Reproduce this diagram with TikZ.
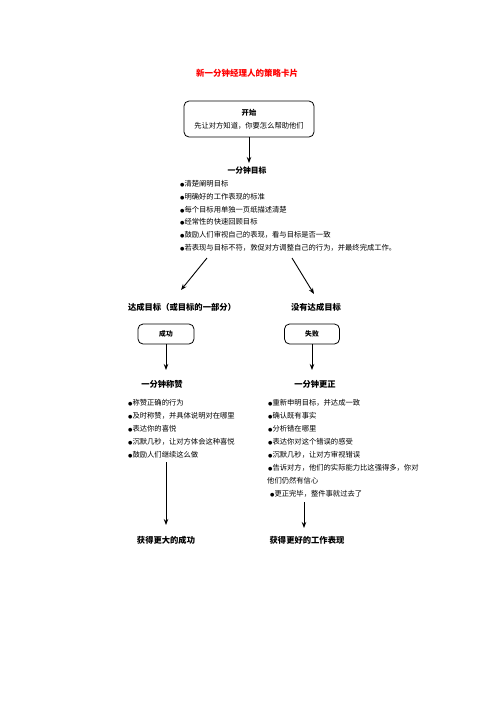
\documentclass[tikz,border=0pt]{standalone}
\usepackage{fontspec}
\setmainfont{Noto Sans CJK SC}
\newfontfamily\djv{DejaVu Sans}
\usetikzlibrary{arrows.meta}
\newcommand{\bul}{{\djv\fontsize{5pt}{5pt}\selectfont ●}}
\begin{document}
\begin{tikzpicture}[x=1pt,y=-1pt,
  body/.style={anchor=west,inner sep=0pt,font=\fontsize{7.3pt}{9pt}\selectfont},
  head/.style={inner sep=0pt,font=\fontsize{8.3pt}{10pt}\selectfont\bfseries},
  rbox/.style={draw,rounded corners=5pt,line width=0.8pt},
  arr/.style={-{Stealth[length=6pt,width=4.5pt]},line width=0.9pt}]
\useasboundingbox (0,0) rectangle (496,702);
\node[inner sep=0pt,text=red,font=\fontsize{8.5pt}{10pt}\selectfont\bfseries] (title) at (247,73) {新一分钟经理人的策略卡片};
\node[rbox,minimum width=130pt,minimum height=36pt,inner sep=0pt,align=center,font=\fontsize{7.3pt}{9pt}\selectfont] (start) at (249,119) {{\bfseries 开始}\\[4pt]先让对方知道，你要怎么帮助他们};
\node[head,font=\fontsize{7.8pt}{10pt}\selectfont\bfseries] (goal) at (247,171) {一分钟目标};
\coordinate (goalin) at (249,163);
\draw[arr] (start.south) -- (goalin);
\node[body] (g1) at (180,184) {\bul 清楚阐明目标};
\node[body] (g2) at (180,197) {\bul 明确好的工作表现的标准};
\node[body] (g3) at (180,210) {\bul 每个目标用单独一页纸描述清楚};
\node[body] (g4) at (180,222) {\bul 经常性的快速回顾目标};
\node[body] (g5) at (180,235) {\bul 鼓励人们审视自己的表现，看与目标是否一致};
\node[body] (g6) at (180,248) {\bul 若表现与目标不符，敦促对方调整自己的行为，并最终完成工作。};
\coordinate (la) at (207,258);
\coordinate (lb) at (181,290);
\coordinate (ra) at (292,258);
\coordinate (rb) at (314,294);
\draw[arr] (la) -- (lb);
\draw[arr] (ra) -- (rb);
\node[head] (reach) at (182,307) {达成目标（或目标的一部分）};
\node[head] (notreach) at (316,307) {没有达成目标};
\node[rbox,minimum width=56pt,minimum height=20pt,inner sep=0pt,font=\fontsize{6.8pt}{8pt}\selectfont\bfseries] (succ) at (166,334) {成功};
\node[rbox,minimum width=55pt,minimum height=20pt,inner sep=0pt,font=\fontsize{6.8pt}{8pt}\selectfont\bfseries] (fail) at (312,334) {失败};
\node[head] (praise) at (162,384) {一分钟称赞};
\node[head] (correct) at (315,384) {一分钟更正};
\coordinate (praisein) at (166,370);
\coordinate (correctin) at (312,370);
\draw[arr] (succ.south) -- (praisein);
\draw[arr] (fail.south) -- (correctin);
\node[body] (p1) at (128,403) {\bul 称赞正确的行为};
\node[body] (p2) at (128,416) {\bul 及时称赞，并具体说明对在哪里};
\node[body] (p3) at (128,429) {\bul 表达你的喜悦};
\node[body] (p4) at (128,442) {\bul 沉默几秒，让对方体会这种喜悦};
\node[body] (p5) at (128,455) {\bul 鼓励人们继续这么做};
\node[body] (c1) at (268,403) {\bul 重新申明目标，并达成一致};
\node[body] (c2) at (268,416) {\bul 确认既有事实};
\node[body] (c3) at (268,429) {\bul 分析错在哪里};
\node[body] (c4) at (268,442) {\bul 表达你对这个错误的感受};
\node[body] (c5) at (268,455) {\bul 沉默几秒，让对方审视错误};
\node[body] (c6) at (268,468) {\bul 告诉对方，他们的实际能力比这强得多，你对};
\node[body] (c7) at (267,481) {他们仍然有信心};
\node[body] (c8) at (270,494) {\bul 更正完毕，整件事就过去了};
\node[head] (big) at (166,540) {获得更大的成功};
\node[head] (better) at (307,540) {获得更好的工作表现};
\coordinate (pa) at (166,462);
\coordinate (pb) at (166,525);
\coordinate (ca) at (304,502);
\coordinate (cb) at (304,528);
\draw[arr] (pa) -- (pb);
\draw[arr] (ca) -- (cb);
\end{tikzpicture}
\end{document}
